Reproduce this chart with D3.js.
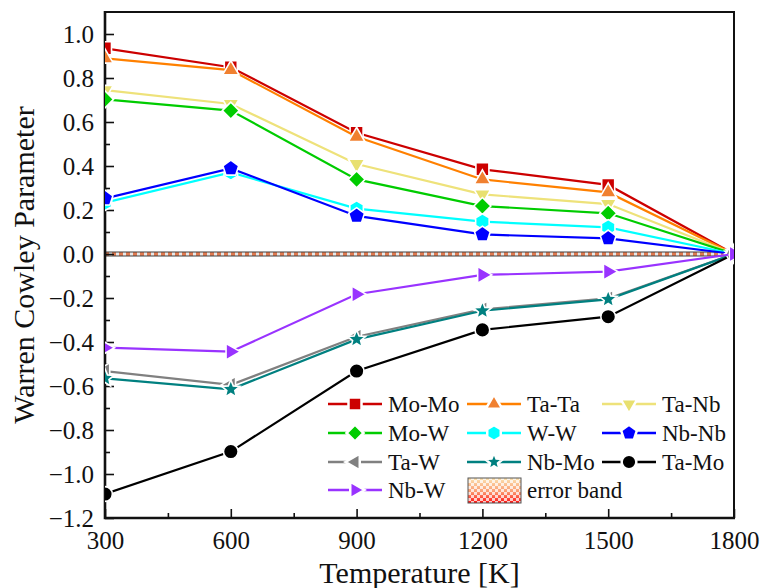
<!DOCTYPE html>
<html>
<head>
<meta charset="utf-8">
<script src="https://cdn.jsdelivr.net/npm/d3@7"></script>
<style>
  body { margin: 0; background: #fff; }
  svg, svg text { font-family: "Liberation Serif", "Times New Roman", serif; }
  .tickLbl text { font-size: 25px; fill: #111; }
  .axisTitle { font-size: 30px; fill: #111; }
  .legendText { font-size: 23px; fill: #111; }
</style>
</head>
<body>
<div class="chart"></div>
<script>
// Warren-Cowley parameter vs temperature

var temps = [300, 600, 900, 1200, 1500, 1800];

var moMo = [0.935, 0.849, 0.551, 0.385, 0.314, 0];
var taTa = [0.889, 0.836, 0.533, 0.339, 0.280, 0];
var taNb = [0.745, 0.682, 0.409, 0.271, 0.227, 0];
var moW  = [0.703, 0.652, 0.339, 0.218, 0.185, 0];
var wW   = [0.233, 0.371, 0.206, 0.147, 0.121, 0];
var nbNb = [0.253, 0.389, 0.173, 0.089, 0.071, 0];
var taW  = [-0.532, -0.595, -0.376, -0.252, -0.202, 0];
var nbMo = [-0.565, -0.615, -0.388, -0.258, -0.206, 0];
var taMo = [-1.091, -0.898, -0.532, -0.345, -0.285, 0];
var nbW  = [-0.426, -0.444, -0.183, -0.095, -0.080, 0];

var xTicks = [300, 600, 900, 1200, 1500, 1800];
var yTicks = [-1.2, -1.0, -0.8, -0.6, -0.4, -0.2, 0.0, 0.2, 0.4, 0.6, 0.8, 1.0];

var series = [
  { name: "Mo-Mo", values: moMo, line: "#cc0000", fill: "#cc0000", shape: "square" },
  { name: "Ta-Ta", values: taTa, line: "#ff8000", fill: "#f08030", shape: "triUp" },
  { name: "Ta-Nb", values: taNb, line: "#eee27a", fill: "#e8e070", shape: "triDown" },
  { name: "Mo-W",  values: moW,  line: "#00cc00", fill: "#00cc00", shape: "diamond" },
  { name: "W-W",   values: wW,   line: "#00ffff", fill: "#00ffff", shape: "hexagon" },
  { name: "Nb-Nb", values: nbNb, line: "#0000ff", fill: "#0000ff", shape: "pentagon" },
  { name: "Ta-W",  values: taW,  line: "#808080", fill: "#808080", shape: "triLeft" },
  { name: "Nb-Mo", values: nbMo, line: "#008080", fill: "#008080", shape: "star" },
  { name: "Ta-Mo", values: taMo, line: "#000000", fill: "#000000", shape: "circle" },
  { name: "Nb-W",  values: nbW,  line: "#9933ff", fill: "#9933ff", shape: "triRight" }
];

var width = 761, height = 588;
var margin = { top: 12, right: 27, bottom: 70, left: 105 };

var svg = d3.select(".chart").append("svg")
            .attr("width", width)
            .attr("height", height);

var scaleX = d3.scaleLinear().domain([300, 1800]).range([margin.left, width - margin.right]);
var scaleY = d3.scaleLinear().domain([-1.2, 1.1]).range([height - margin.bottom, margin.top]);

var x0 = scaleX.range()[0], x1 = scaleX.range()[1];
var y0 = scaleY.range()[0], y1 = scaleY.range()[1];

// marker shapes as polygons
function polygon(n, r, startDeg) {
  var pts = [];
  for (var i = 0; i < n; i++) {
    var a = (startDeg + i * 360 / n) * Math.PI / 180;
    pts.push([r * Math.cos(a), r * Math.sin(a)]);
  }
  return "M" + pts.join("L") + "Z";
}
function star(ro, ri) {
  var pts = [];
  for (var i = 0; i < 10; i++) {
    var a = (-90 + i * 36) * Math.PI / 180;
    var r = i % 2 === 0 ? ro : ri;
    pts.push([r * Math.cos(a), r * Math.sin(a)]);
  }
  return "M" + pts.join("L") + "Z";
}
function markerPath(shape) {
  if (shape === "square")   return polygon(4, 9.2, 45);
  if (shape === "triUp")    return polygon(3, 9.5, -90);
  if (shape === "triDown")  return polygon(3, 9.5, 90);
  if (shape === "triLeft")  return polygon(3, 9.5, 180);
  if (shape === "triRight") return polygon(3, 9.5, 0);
  if (shape === "diamond")  return polygon(4, 8.5, 0);
  if (shape === "hexagon")  return polygon(6, 7.8, -90);
  if (shape === "pentagon") return polygon(5, 8.3, -90);
  if (shape === "star")     return star(9.5, 4.2);
  return d3.symbol(d3.symbolCircle, 170)();
}

var defs = svg.append("defs");

defs.append("clipPath").attr("id", "plotClip")
    .append("rect")
    .attr("x", x0).attr("y", y1)
    .attr("width", x1 - x0).attr("height", y0 - y1);

// zero band pattern (orange dashes)
var zp = defs.append("pattern").attr("id", "zeroPat")
    .attr("patternUnits", "userSpaceOnUse")
    .attr("width", 7).attr("height", 4);
zp.append("rect").attr("width", 7).attr("height", 4).attr("fill", "#e8e8e8");
zp.append("rect").attr("width", 4).attr("height", 4).attr("fill", "#e07a50");

// error band legend swatch
var grad = defs.append("linearGradient").attr("id", "bandGrad")
    .attr("x1", 0).attr("y1", 0).attr("x2", 0).attr("y2", 1);
grad.append("stop").attr("offset", "0%").attr("stop-color", "#fbe3b0");
grad.append("stop").attr("offset", "55%").attr("stop-color", "#fb9a70");
grad.append("stop").attr("offset", "100%").attr("stop-color", "#ff1010");

var chk = defs.append("pattern").attr("id", "checker")
    .attr("patternUnits", "userSpaceOnUse")
    .attr("width", 6).attr("height", 6);
chk.append("rect").attr("width", 3).attr("height", 3).attr("fill", "#fff").attr("opacity", 0.75);
chk.append("rect").attr("x", 3).attr("y", 3).attr("width", 3).attr("height", 3).attr("fill", "#fff").attr("opacity", 0.75);

// zero line band
svg.append("rect")
   .attr("x", x0).attr("y", scaleY(0) - 2)
   .attr("width", x1 - x0).attr("height", 4)
   .attr("fill", "url(#zeroPat)")
   .attr("stroke", "#404040")
   .attr("stroke-width", 1);

// axes
var axisBottom = d3.axisBottom(scaleX).tickValues(xTicks)
                   .tickSizeInner(-9).tickSizeOuter(0).tickPadding(13)
                   .tickFormat(d3.format("d"));
var axisBottomMinor = d3.axisBottom(scaleX).tickValues([450, 750, 1050, 1350, 1650])
                   .tickSizeInner(-5).tickSizeOuter(0).tickFormat("");
var axisLeft = d3.axisLeft(scaleY).tickValues(yTicks)
                 .tickSizeInner(-9).tickSizeOuter(0).tickPadding(11)
                 .tickFormat(d3.format(".1f"));
var axisLeftMinor = d3.axisLeft(scaleY).tickValues(d3.range(-11, 11, 2).map(function(v) { return v / 10; }))
                 .tickSizeInner(-5).tickSizeOuter(0).tickFormat("");

function styleAxis(g) {
  g.attr("font-family", null).attr("font-size", null);
  g.select(".domain").remove();
  g.selectAll("line").attr("stroke", "#111").attr("stroke-width", 1.6);
}

svg.append("g").attr("class", "tickLbl")
   .attr("transform", "translate(0," + y0 + ")")
   .call(axisBottom).call(styleAxis);
svg.append("g").attr("transform", "translate(0," + y0 + ")")
   .call(axisBottomMinor).call(styleAxis);
svg.append("g").attr("class", "tickLbl")
   .attr("transform", "translate(" + x0 + ",0)")
   .call(axisLeft).call(styleAxis);
svg.append("g").attr("transform", "translate(" + x0 + ",0)")
   .call(axisLeftMinor).call(styleAxis);

// frame
svg.append("path")
   .attr("d", "M" + x0 + "," + y1 + "L" + x1 + "," + y1 + "L" + x1 + "," + y0)
   .attr("fill", "none").attr("stroke", "#111").attr("stroke-width", 2);
svg.append("path")
   .attr("d", "M" + x0 + "," + (y1 - 1) + "L" + x0 + "," + y0 + "L" + (x1 + 1) + "," + y0)
   .attr("fill", "none").attr("stroke", "#111").attr("stroke-width", 2.6);

// data
var plot = svg.append("g").attr("clip-path", "url(#plotClip)");

var line = d3.line()
             .x(function(d, i) { return scaleX(temps[i]); })
             .y(function(d) { return scaleY(d); });

series.forEach(function(s) {
  var g = plot.append("g");
  g.append("path")
   .attr("d", line(s.values))
   .attr("fill", "none")
   .attr("stroke", s.line)
   .attr("stroke-width", 2.2);
  g.selectAll("path.mk")
   .data(s.values)
   .enter().append("path")
   .attr("class", "mk")
   .attr("d", markerPath(s.shape))
   .attr("transform", function(d, i) { return "translate(" + scaleX(temps[i]) + "," + scaleY(d) + ")"; })
   .attr("fill", s.fill)
   .attr("stroke", "#fff")
   .attr("stroke-width", 1.6);
});

// legend
var legCols = [328, 467, 602];
var legRows = [404, 433, 462, 490];
var legend = svg.append("g");

series.forEach(function(s, i) {
  var cx = legCols[i % 3], cy = legRows[Math.floor(i / 3)];
  var g = legend.append("g");
  g.append("line")
   .attr("x1", cx).attr("x2", cx + 54)
   .attr("y1", cy).attr("y2", cy)
   .attr("stroke", s.line).attr("stroke-width", 2.4);
  g.append("path")
   .attr("d", markerPath(s.shape))
   .attr("transform", "translate(" + (cx + 27) + "," + cy + ")")
   .attr("fill", s.fill)
   .attr("stroke", "#fff")
   .attr("stroke-width", 2.5);
  g.append("text")
   .attr("class", "legendText")
   .attr("x", cx + 60).attr("y", cy + 8)
   .text(s.name);
});

// error band entry
var bx = legCols[1] + 1, by = legRows[3] - 12;
legend.append("rect")
      .attr("x", bx).attr("y", by).attr("width", 53).attr("height", 25)
      .attr("fill", "url(#bandGrad)");
legend.append("rect")
      .attr("x", bx).attr("y", by).attr("width", 53).attr("height", 25)
      .attr("fill", "url(#checker)")
      .attr("stroke", "#555").attr("stroke-width", 1);
legend.append("text")
      .attr("class", "legendText")
      .attr("x", legCols[1] + 60).attr("y", legRows[3] + 8)
      .text("error band");

// axis titles
svg.append("text")
   .attr("class", "axisTitle")
   .attr("x", (x0 + x1) / 2).attr("y", 583)
   .style("text-anchor", "middle")
   .text("Temperature [K]");

svg.append("text")
   .attr("class", "axisTitle")
   .attr("transform", "translate(34," + ((y0 + y1) / 2) + ") rotate(-90)")
   .style("text-anchor", "middle")
   .text("Warren Cowley Parameter");
</script>
</body>
</html>
